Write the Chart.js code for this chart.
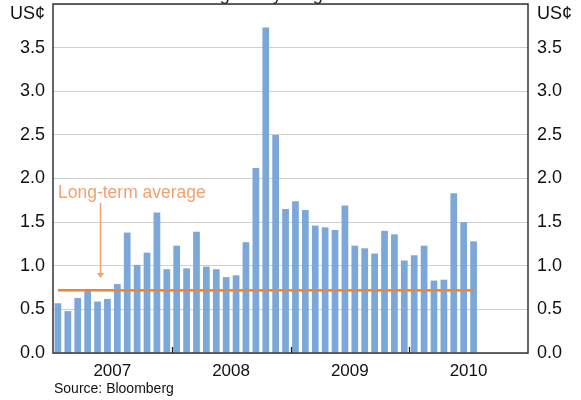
<!DOCTYPE html>
<html>
<head>
<meta charset="utf-8">
<script src="https://cdn.jsdelivr.net/npm/chart.js@4/dist/chart.umd.min.js"></script>
<style>
  html, body { margin: 0; padding: 0; background: #fff; }
  #wrap { width: 581px; height: 400px; }
</style>
</head>
<body>
<div id="wrap"><canvas id="rangeChart"></canvas></div>
<script>
// Data
const years = ['2007', '2008', '2009', '2010'];
const months = ['Jan', 'Feb', 'Mar', 'Apr', 'May', 'Jun', 'Jul', 'Aug', 'Sep', 'Oct', 'Nov', 'Dec'];
const dailyRange = [
    0.57, 0.48, 0.63, 0.71, 0.59, 0.62, 0.79, 1.38, 1.01, 1.15, 1.61, 0.96,
    1.23, 0.97, 1.39, 0.99, 0.96, 0.87, 0.89, 1.27, 2.12, 3.73, 2.50, 1.65,
    1.74, 1.64, 1.46, 1.44, 1.41, 1.69, 1.23, 1.20, 1.14, 1.40, 1.36, 1.06,
    1.12, 1.23, 0.83, 0.84, 1.83, 1.50, 1.28
];
const longTermAverage = 0.72;
const yTicks = [0, 0.5, 1, 1.5, 2, 2.5, 3, 3.5, 4];

const categories = [];
years.forEach(y => months.forEach(m => categories.push(m + ' ' + y)));

const averageLine = dailyRange.map(() => longTermAverage);

const FONT = '"Liberation Sans", Arial, sans-serif';
const BAR_BLUE = 'rgb(124,167,217)';
const ORANGE = 'rgb(242,130,52)';
const ORANGE_LIGHT = 'rgb(244,160,108)';

// Extra drawing: border box, year ticks, units, annotation, source, clipped title
const extras = {
    id: 'extras',
    beforeDraw(chart) {
        const c = chart.ctx;
        c.save();
        c.fillStyle = '#222';
        c.font = '18px ' + FONT;
        c.textAlign = 'left';
        c.textBaseline = 'alphabetic';
        c.fillText('Average daily range', 173, -0.5);
        c.restore();
    },
    afterDraw(chart) {
        const c = chart.ctx;
        const a = chart.chartArea;
        const x = chart.scales.x;
        const y = chart.scales.y;
        c.save();

        // year boundary ticks, pointing up into the plot
        c.strokeStyle = '#111';
        c.lineWidth = 1.2;
        for (let i = 12; i < categories.length; i += 12) {
            const px = Math.round(x.getPixelForValue(i - 0.5)) + 0.5;
            c.beginPath();
            c.moveTo(px, a.bottom);
            c.lineTo(px, a.bottom - 6);
            c.stroke();
        }

        // frame
        c.strokeStyle = '#333';
        c.lineWidth = 1.5;
        c.strokeRect(a.left, a.top, a.right - a.left, a.bottom - a.top);

        // units
        c.fillStyle = '#111';
        c.font = '18px ' + FONT;
        c.textBaseline = 'middle';
        c.textAlign = 'right';
        c.fillText('US¢', a.left - 8, a.top + 10);
        c.textAlign = 'left';
        c.fillText('US¢', a.right + 9, a.top + 10);

        // annotation
        c.fillStyle = ORANGE_LIGHT;
        c.font = '17.5px ' + FONT;
        c.textAlign = 'left';
        c.fillText('Long-term average', x.getPixelForValue(0), y.getPixelForValue(1.83));

        const ax = Math.round(x.getPixelForValue(4.25)) + 0.5;
        const y0 = y.getPixelForValue(1.72);
        const y1 = y.getPixelForValue(0.86);
        c.strokeStyle = ORANGE_LIGHT;
        c.lineWidth = 1.5;
        c.beginPath();
        c.moveTo(ax, y0);
        c.lineTo(ax, y1 - 4);
        c.stroke();
        c.beginPath();
        c.moveTo(ax - 3.5, y1 - 5);
        c.lineTo(ax + 3.5, y1 - 5);
        c.lineTo(ax, y1);
        c.closePath();
        c.fill();

        // source
        c.fillStyle = '#111';
        c.font = '14px ' + FONT;
        c.textAlign = 'left';
        c.fillText('Source: Bloomberg', a.left + 1, 389);

        c.restore();
    }
};

new Chart(document.getElementById('rangeChart'), {
    data: {
        labels: categories,
        datasets: [
            {
                type: 'line',
                data: averageLine,
                borderColor: ORANGE,
                borderWidth: 2.5,
                pointRadius: 0,
                fill: false,
                order: 1,
                yAxisID: 'y'
            },
            {
                type: 'bar',
                data: dailyRange,
                backgroundColor: BAR_BLUE,
                borderWidth: 0,
                categoryPercentage: 1,
                barPercentage: 0.68,
                order: 2,
                yAxisID: 'y'
            }
        ]
    },
    options: {
        responsive: true,
        maintainAspectRatio: false,
        animation: false,
        layout: { padding: { top: 4, bottom: 20, left: 0, right: 0 } },
        plugins: { legend: { display: false }, tooltip: { enabled: false } },
        scales: {
            x: {
                offset: true,
                grid: { display: false, drawTicks: false },
                border: { display: false },
                ticks: {
                    autoSkip: false,
                    maxRotation: 0,
                    padding: 8,
                    labelOffset: -5,
                    color: '#111',
                    font: { family: FONT, size: 17 },
                    callback: (v, i) => (i % 12 === 6 ? years[Math.floor(i / 12)] : '')
                },
                afterFit: s => { s.height = 27; s.paddingLeft = 0; s.paddingRight = 0; }
            },
            y: {
                position: 'left',
                min: 0,
                max: 4,
                afterBuildTicks: s => { s.ticks = yTicks.map(v => ({ value: v })); },
                grid: { color: '#cfcfcf', lineWidth: 1, drawTicks: false },
                border: { display: false },
                ticks: {
                    padding: 8,
                    color: '#111',
                    font: { family: FONT, size: 18 },
                    callback: v => (v === 4 ? '' : v.toFixed(1))
                },
                afterFit: s => { s.width = 53; s.paddingTop = 0; s.paddingBottom = 0; }
            },
            y2: {
                position: 'right',
                min: 0,
                max: 4,
                afterBuildTicks: s => { s.ticks = yTicks.map(v => ({ value: v })); },
                grid: { display: false, drawTicks: false },
                border: { display: false },
                ticks: {
                    padding: 9,
                    color: '#111',
                    font: { family: FONT, size: 18 },
                    callback: v => (v === 4 ? '' : v.toFixed(1))
                },
                afterFit: s => { s.width = 53; s.paddingTop = 0; s.paddingBottom = 0; }
            }
        }
    },
    plugins: [extras]
});
</script>
</body>
</html>
